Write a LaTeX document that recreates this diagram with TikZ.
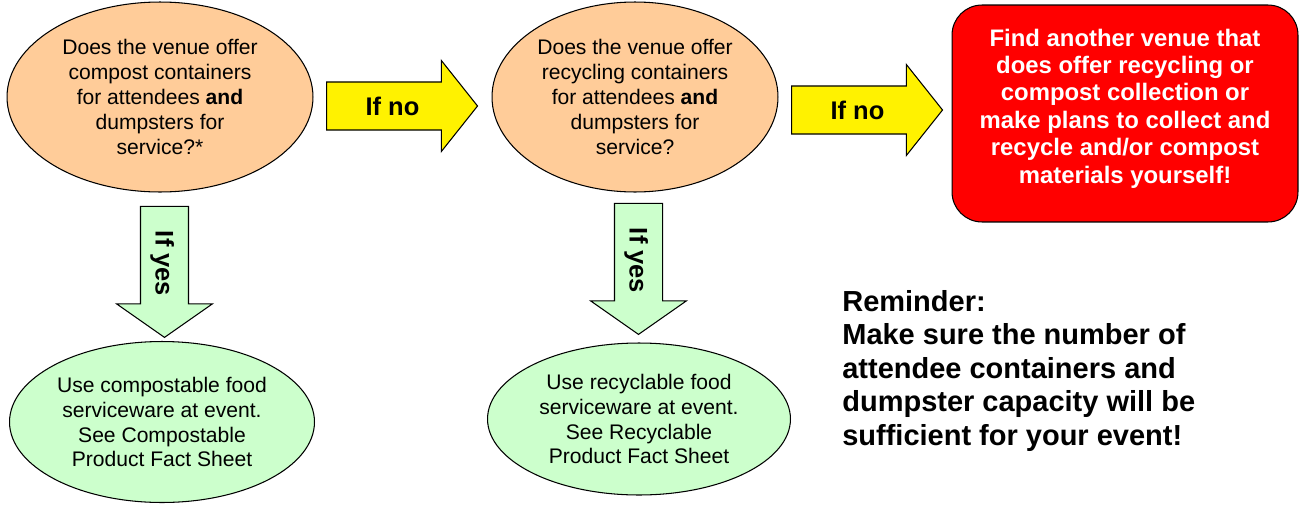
\documentclass[tikz,border=0pt]{standalone}
\usepackage{fontspec}
\setmainfont{Liberation Sans}
\usetikzlibrary{shapes.geometric,shapes.arrows}

\definecolor{peach}{HTML}{FFCC99}
\definecolor{mint}{HTML}{CCFFCC}

\begin{document}
\begin{tikzpicture}[
  x=0.02cm, y=-0.02cm,
  blob/.style={draw, ellipse, line width=0.6pt, inner sep=0pt, align=center, font=\fontsize{12}{14.2}\selectfont},
  question/.style={blob, fill=peach, minimum height=3.8cm},
  action/.style={blob, fill=mint},
  noarrow/.style={single arrow, draw, fill=yellow, line width=0.6pt, inner sep=0pt,
    text height=0.65cm, text depth=0.29cm, single arrow head extend=0.43cm,
    single arrow tip angle=103, minimum height=3.02cm, font=\fontsize{14.5}{16}\selectfont\bfseries},
  yesarrow/.style={noarrow, fill=mint, rotate=-90, single arrow head extend=0.48cm,
    single arrow tip angle=110, minimum height=2.62cm},
  warnbox/.style={draw, fill=red, text=white, line width=0.6pt, rounded corners=0.6cm, align=center,
    minimum width=6.92cm, minimum height=4.34cm, font=\fontsize{13.6}{15.6}\selectfont\bfseries},
]
\useasboundingbox (0,0) rectangle (1302,504);

% Questions
\node[question, minimum width=6.12cm] (compost) at (160, 97) {Does the venue offer\\compost containers\\for attendees \textbf{and}\\dumpsters for\\service?*};
\node[question, minimum width=5.72cm] (recycle) at (635, 97) {Does the venue offer\\recycling containers\\for attendees \textbf{and}\\dumpsters for\\service?};

% Outcomes
\node[action, minimum width=6.1cm, minimum height=3.22cm] (usecomp) at (162, 422) {Use compostable food\\serviceware at event.\\See Compostable\\Product Fact Sheet};
\node[action, minimum width=6.06cm, minimum height=3.04cm] (userec) at (639, 419) {Use recyclable food\\serviceware at event.\\See Recyclable\\Product Fact Sheet};
% extra depth on the last line lifts the text a little
\node[warnbox] (elsewhere) at (1125, 113.5) {Find another venue that\\does offer recycling or\\compost collection or\\make plans to collect and\\recycle and/or compost\\materials yourself!\rule[-0.3cm]{0pt}{0pt}};

% Block arrows (the node centre sits on the text, not the middle of the arrow)
\node[noarrow] (no1) at (392.5, 106) {If no};
\node[noarrow] (no2) at (857.5, 110) {If no};
\node[yesarrow] (yes1) at (164.5, 263.5) {If yes};
\node[yesarrow] (yes2) at (638.5, 260.5) {If yes};

% Note
\node[anchor=base west, align=left, inner sep=0pt, font=\fontsize{16.5}{19}\selectfont\bfseries] (reminder) at (842, 445)
  {Reminder:\\Make sure the number of\\attendee containers and\\dumpster capacity will be\\sufficient for your event!};

\end{tikzpicture}
\end{document}
